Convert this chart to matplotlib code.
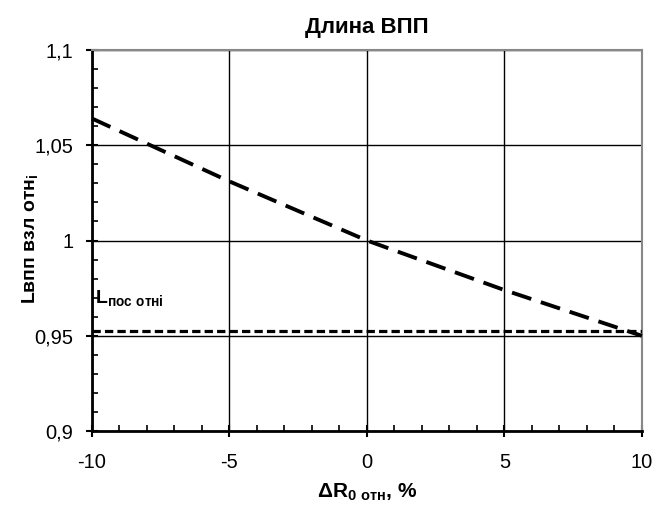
import numpy as np
import matplotlib
matplotlib.use("Agg")
import matplotlib.pyplot as plt
from matplotlib.ticker import MultipleLocator, FuncFormatter

plt.rcParams['font.family'] = ['Liberation Sans', 'DejaVu Sans']

# data
dr = [-10, -5, 0, 5, 10]
l_vzl = [1.064, 1.031, 1.0, 0.974, 0.950]
l_pos = 0.9525

fig = plt.figure(figsize=(6.57, 5.09), dpi=100)
ax = fig.add_axes([0.140, 0.153, 0.837, 0.749])

ax.plot(dr, l_vzl, color='black', lw=2.8, dashes=(5.2, 2.6), zorder=3, clip_on=False)
ax.axhline(l_pos, color='black', lw=2.3, dashes=(2.6, 1.3), zorder=3)

ax.set_xlim(-10, 10)
ax.set_ylim(0.9, 1.1)
ax.xaxis.set_major_locator(MultipleLocator(5))
ax.xaxis.set_minor_locator(MultipleLocator(1))
ax.yaxis.set_major_locator(MultipleLocator(0.05))
ax.yaxis.set_minor_locator(MultipleLocator(0.01))

def comma(v, pos):
    return ('%g' % round(v, 3)).replace('.', ',')

ax.yaxis.set_major_formatter(FuncFormatter(comma))
ax.xaxis.set_major_formatter(FuncFormatter(lambda v, p: '%g' % v))

ax.grid(which='major', color='black', lw=1)
ax.tick_params(axis='x', which='major', direction='inout', length=9, width=1.5,
               labelsize=14.5, pad=11)
ax.tick_params(axis='y', which='major', direction='inout', length=9, width=1.5,
               labelsize=14.5, pad=9)
ax.tick_params(which='minor', direction='in', length=4, width=1.2)

for s in ['left', 'bottom']:
    ax.spines[s].set_linewidth(2)
for s in ['top', 'right']:
    ax.spines[s].set_color('#888888')
    ax.spines[s].set_linewidth(1.5)

ax.set_title('Длина ВПП', fontsize=16, fontweight='bold', pad=12)
ax.set_xlabel(r'ΔR$_\mathregular{0\ отн}$, %', fontsize=15, fontweight='bold', labelpad=7)
ax.set_ylabel(r'Lвпп взл отн$_\mathregular{i}$', fontsize=14, fontweight='bold')
ax.yaxis.set_label_coords(-0.093, 0.505)

ax.text(-9.9, 0.9695, r'L$_\mathregular{пос\ отнi}$', fontsize=14, fontweight='bold',
        va='center', ha='left')

fig.savefig('out.png', dpi=100)
